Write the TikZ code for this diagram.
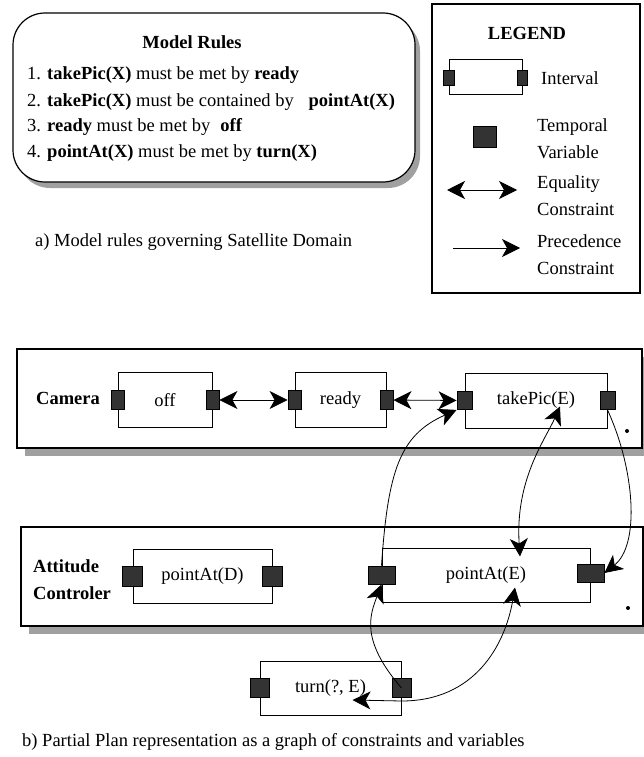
\documentclass[tikz,border=0pt]{standalone}
\usepackage{fontspec}
\setmainfont{Liberation Serif}
\usetikzlibrary{positioning, arrows.meta, shadows}
\definecolor{tvfill}{HTML}{333333}
\definecolor{shade}{HTML}{A0A0A0}

\begin{document}
\begin{tikzpicture}[x=1pt, y=-1pt,
    >={Stealth[length=18pt, width=18pt, inset=5pt]},
    every node/.style={font=\fontsize{18.5}{27}\selectfont, inner sep=0pt},
    panel/.style={draw, line width=1.2pt, fill=white},
    interval/.style={draw, line width=1pt, minimum width=#1, minimum height=55pt},
    tvar/.style={draw, line width=0.8pt, fill=tvfill, minimum width=#1, minimum height=19pt},
    tvar/.default=14pt,
    lbl/.style={font=\fontsize{18.5}{27}\selectfont\bfseries, align=left},
    eq/.style={<->, line width=0.8pt},
    prec/.style={->, line width=0.8pt},
    sh/.style={drop shadow={shadow xshift=#1, shadow yshift=-8pt, fill=shade, opacity=1}},
  ]
  \useasboundingbox (0,0) rectangle (644,757);

  \node[panel, rounded corners=32pt, minimum width=402pt, minimum height=169pt,
        drop shadow={shadow xshift=5pt, shadow yshift=-6pt, fill=shade, opacity=1}] (rules) at (214,97.5) {};
  \node[lbl] (rtitle) at (192,42) {Model Rules};
  \node[anchor=west] (r1) at (27,75) {1. \textbf{takePic(X)} must be met by \textbf{ready}};
  \node[anchor=west] (r2) at (27,102) {2. \textbf{takePic(X)} must be contained by\hspace{0.8em}\textbf{pointAt(X)}};
  \node[anchor=west] (r3) at (27,127) {3. \textbf{ready} must be met by\hspace{0.3em} \textbf{off}};
  \node[anchor=west] (r4) at (27,153) {4. \textbf{pointAt(X)} must be met by \textbf{turn(X)}};
  \node[anchor=west] (capa) at (35,242) {a) Model rules governing Satellite Domain};

  \node[panel, minimum width=208pt, minimum height=289pt] (legend) at (536,148.5) {};
  \node[lbl] (lgtitle) at (527,33) {LEGEND};
  \node[interval=73pt, minimum height=35pt] (lgI) at (485.5,77.5) {};
  \node[tvar=11pt, minimum height=15pt] (lgIL) at (lgI.west) {};
  \node[tvar=10pt, minimum height=15pt] (lgIR) at (lgI.east) {};
  \node[anchor=west] (lgItxt) at (541,78) {Interval};
  \node[tvar=23pt, minimum height=21pt] (lgV) at (484.5,136.5) {};
  \node[anchor=west, align=left] (lgVtxt) at (537,139) {Temporal\\Variable};
  \coordinate (lgEa) at (447,190);
  \coordinate (lgEb) at (517,190);
  \draw[eq] (lgEa) -- (lgEb);
  \node[anchor=west, align=left] (lgEtxt) at (537,196) {Equality\\Constraint};
  \coordinate (lgPa) at (453,248);
  \coordinate (lgPb) at (520,248);
  \draw[prec] (lgPa) -- (lgPb);
  \node[anchor=west, align=left] (lgPtxt) at (537,255) {Precedence\\Constraint};

  \node[panel, minimum width=625pt, minimum height=99pt, sh=8pt] (camera) at (329.5,398.5) {};
  \node[lbl] (camlbl) at (68,398) {Camera};
  \node[interval=94pt] (off) at (165,400) {off};
  \node[tvar=13pt] (offL) at (off.west) {};
  \node[tvar=13pt] (offR) at (off.east) {};
  \node[interval=91pt] (ready) at (340.5,400) {ready};
  \node[tvar=13pt] (readyL) at (ready.west) {};
  \node[tvar=13pt] (readyR) at (ready.east) {};
  \node[interval=142pt] (tp) at (536,400.5) {takePic(E)};
  \node[tvar=15pt, minimum height=18pt] (tpL) at (tp.west) {};
  \node[tvar=15pt, minimum height=18pt] (tpR) at (tp.east) {};
  \fill (627,431) circle (2pt);

  \node[panel, minimum width=622pt, minimum height=99pt, sh=8pt] (attitude) at (332,576.5) {};
  \node[lbl, anchor=west] (attlbl) at (33,580) {Attitude\\Controler};
  \node[interval=139pt, minimum height=54pt] (pd) at (202.5,576) {pointAt(D)};
  \node[tvar=20pt, minimum height=20pt] (pdL) at (pd.west) {};
  \node[tvar=20pt, minimum height=20pt] (pdR) at (pd.east) {};
  \node[interval=208pt, minimum height=54pt] (pe) at (486,575) {pointAt(E)};
  \node[tvar=27pt, minimum height=18pt] (peL) at (pe.west) {};
  \node[tvar=27pt, minimum height=18pt, yshift=2pt] (peR) at (pe.east) {};
  \fill (628,608) circle (2pt);

  \node[interval=141pt, minimum height=54pt] (turn) at (330.5,688) {turn(?, E)};
  \node[tvar=19pt] (turnL) at (turn.west) {};
  \node[tvar=19pt] (turnR) at (turn.east) {};
  \node[anchor=west] (capb) at (22,742) {b) Partial Plan representation as a graph of constraints and variables};

  \draw[eq] (offR) -- (readyL);
  \draw[eq] (readyR) -- (tpL);
  \draw[prec] (turnR.center) .. controls (360,640) and (370,615) .. (peL.south);
  \draw[prec] (peL.north) .. controls (388,470) and (400,435) .. (tpL.south west);
  \draw[eq] ([xshift=34pt, yshift=-9pt]pe.north) .. controls (515,480) and (545,440) .. ([xshift=24pt, yshift=22pt]tp.south);
  \draw[eq] ([xshift=22pt, yshift=-12pt]turn.center) -- ([yshift=-13pt]turnR.center) .. controls (475,701) and (505,645) .. ([xshift=29pt, yshift=15pt]pe.south);
  \draw[prec] (tpR.south) .. controls (635,470) and (640,545) .. (peR.east);
\end{tikzpicture}
\end{document}
